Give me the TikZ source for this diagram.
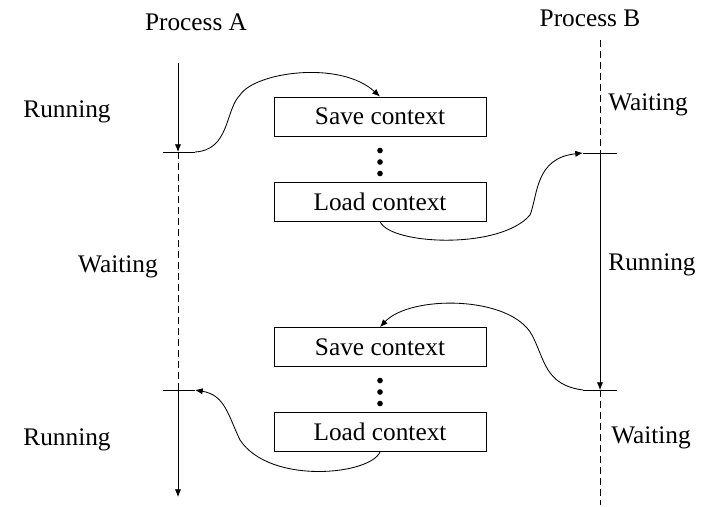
\documentclass[tikz,border=0pt]{standalone}
\usepackage{fontspec}
\setmainfont{Liberation Serif}
\usetikzlibrary{arrows.meta}

\tikzstyle{block} = [draw, rectangle, minimum height=0.975cm, minimum width=5.3cm, line width=0.6pt]
\tikzstyle{lbl} = [font=\fontsize{18}{20}\selectfont]
\tikzstyle{wait} = [line width=0.6pt, dash pattern=on 0.175cm off 0.1cm]
\tikzstyle{run} = [line width=0.6pt]

\begin{document}
\begin{tikzpicture} [x=0.025cm, y=-0.025cm, >={Latex[length=5.5pt,width=4.5pt]}, node distance=2cm]

\useasboundingbox (0,0) rectangle (714,506);

% process A
\coordinate (Atop) at (178,63);
\coordinate (A1) at (178,152);
\coordinate (A2) at (178,390);
\coordinate (Abot) at (178,497);
\coordinate (A1l) at (163,152);
\coordinate (A1r) at (195,152);
\coordinate (A2l) at (163,390);
\coordinate (A2r) at (195,390);

% process B
\coordinate (Btop) at (600,40);
\coordinate (B1) at (600,153);
\coordinate (B2) at (600,390);
\coordinate (Bbot) at (600,505);
\coordinate (B1l) at (583,153);
\coordinate (B1r) at (617,153);
\coordinate (B2l) at (583,390);
\coordinate (B2r) at (617,390);

\node[lbl] (procA) at (196,22) {Process A};
\node[lbl] (procB) at (590,18) {Process B};

\node[lbl] (runA1) at (67,112) {Running};
\node[lbl] (waitA) at (118,267) {Waiting};
\node[lbl] (runA2) at (67,440) {Running};

\node[lbl] (waitB1) at (648,105) {Waiting};
\node[lbl] (runB) at (652,265) {Running};
\node[lbl] (waitB2) at (651,438) {Waiting};

% context switches
\node[block,lbl]
      (save1) at (380,116.5) {Save context};

\node[block,lbl,
      below of=save1,node distance=2.125cm]
      (load1) {Load context};

\node[block,lbl]
      (save2) at (380,347) {Save context};

\node[block,lbl,
      below of=save2,node distance=2.125cm]
      (load2) {Load context};

\foreach \dy in {0,11.5,23} {
  \fill (380,150.5+\dy) circle (2pt);
  \fill (380,380.5+\dy) circle (2pt);
}

% time lines
\draw[->,run]
     (Atop) -- (A1);
\draw[wait]
     (A1) -- (A2);
\draw[->,run]
     (A2) -- (Abot);
\draw[run] (A1l) -- (A1r);
\draw[run] (A2l) -- (A2r);

\draw[wait]
     (Btop) -- (B1);
\draw[->,run]
     (B1) -- (B2);
\draw[wait]
     (B2) -- (Bbot);
\draw[run] (B1l) -- (B1r);
\draw[run] (B2l) -- (B2r);

% switches
\draw[->,run]
     (A1r)
      .. controls (230,150) and (225,110) .. (240,95)
      .. controls (255,72) and (340,60) ..
     (save1.north);

\draw[->,run]
     (load1.south)
      .. controls (390,245) and (500,250) .. (530,215)
      .. controls (538,195) and (535,158) ..
     (B1l);

\draw[->,run]
     (B2l)
      .. controls (545,385) and (545,360) .. (532,335)
      .. controls (510,295) and (410,295) ..
     (save2.north);

\draw[->,run]
     (load2.south)
      .. controls (370,475) and (270,485) .. (240,440)
      .. controls (228,415) and (225,395) ..
     (A2r);

\end{tikzpicture}
\end{document}
